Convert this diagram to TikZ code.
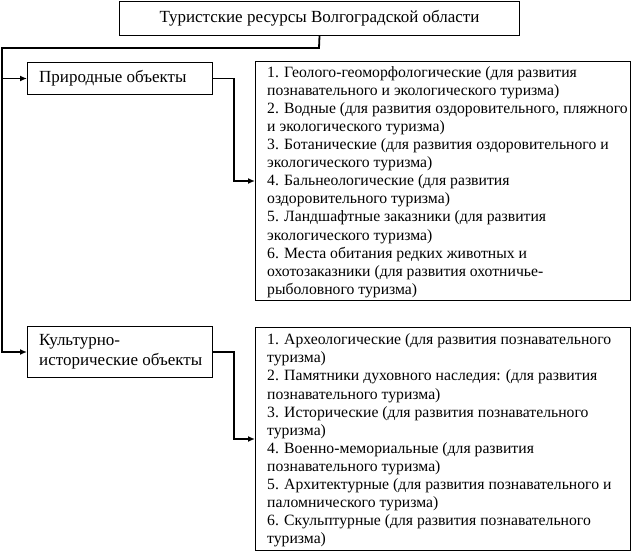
\documentclass[tikz,border=0pt]{standalone}
\usepackage{fontspec}
\setmainfont{Liberation Serif}
\usetikzlibrary{arrows.meta}
\begin{document}
\begin{tikzpicture}[x=1pt,y=-1pt,
 box/.style={draw,line width=1pt,inner sep=0pt,anchor=north west},
 txtA/.style={inner sep=0pt,align=left,anchor=west,font=\fontsize{15.7}{18.1}\selectfont},
 txtC/.style={inner sep=0pt,align=left,anchor=west,font=\fontsize{17}{20}\selectfont},
 conn/.style={line width=1.8pt},
 arr/.style={conn,-{Latex[length=7pt,width=6pt]}}]
\useasboundingbox (0,0) rectangle (632,553);
\node[box,minimum width=400pt,minimum height=34pt,font=\fontsize{17}{20}\selectfont] (title) at (119,1) {Туристские ресурсы Волгоградской области};
\node[box,minimum width=185pt,minimum height=32pt] (nat) at (27,62) {};
\node[txtC] (natT) at ([xshift=12pt]nat.west) {Природные объекты};
\node[box,minimum width=185pt,minimum height=51pt] (cult) at (27,326) {};
\node[txtC] (cultT) at ([xshift=12pt]cult.west) {Культурно-\\исторические объекты};
\node[box,minimum width=375pt,minimum height=239pt] (r1) at (255,61) {};
\node[txtA] (r1T) at ([xshift=12pt,yshift=-1pt]r1.west) {1. Геолого-геоморфологические (для развития\\
познавательного и экологического туризма)\\
2. Водные (для развития оздоровительного, пляжного\\
и экологического туризма)\\
3. Ботанические (для развития оздоровительного и\\
экологического туризма)\\
4. Бальнеологические (для развития\\
оздоровительного туризма)\\
5. Ландшафтные заказники (для развития\\
экологического туризма)\\
6. Места обитания редких животных и\\
охотозаказники (для развития охотничье-\\
рыболовного туризма)};
\node[box,minimum width=375pt,minimum height=223pt] (r2) at (255,327) {};
\node[txtA] (r2T) at ([xshift=12pt,yshift=-1.5pt]r2.west) {1. Археологические (для развития познавательного\\
туризма)\\
2. Памятники духовного наследия: (для развития\\
познавательного туризма)\\
3. Исторические (для развития познавательного\\
туризма)\\
4. Военно-мемориальные (для развития\\
познавательного туризма)\\
5. Архитектурные (для развития познавательного и\\
паломнического туризма)\\
6. Скульптурные (для развития познавательного\\
туризма)};
\coordinate (jt) at (319,48);
\coordinate (jl) at (2,48);
\draw[arr] (title.south) -- (jt) -- (jl) |- (cult.west);
\draw[arr] (jl |- nat.west) -- (nat.west);
\draw[arr] (nat.east) -- ++(21,0) |- (r1.west);
\draw[arr] (cult.east) -- ++(21,0) |- (r2.west);
\end{tikzpicture}
\end{document}
